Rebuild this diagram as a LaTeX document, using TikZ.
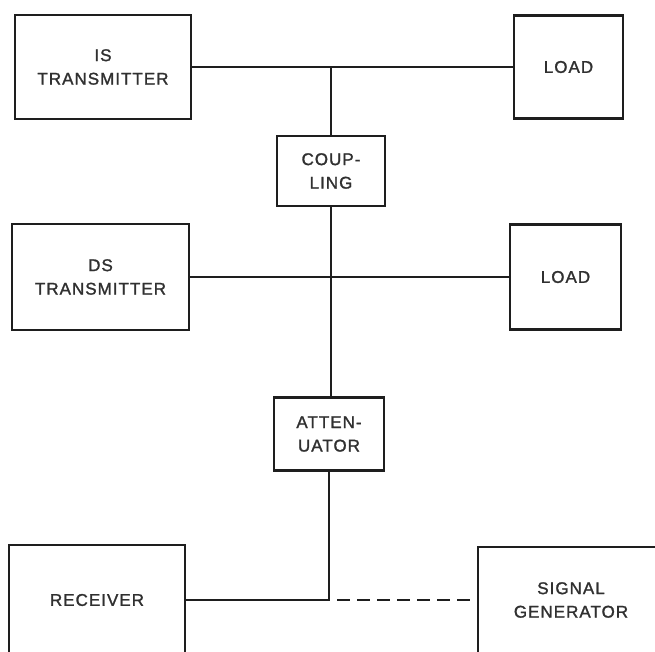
\documentclass[tikz,border=0pt]{standalone}
\usepackage{fontspec}
\setmainfont{Liberation Sans}[LetterSpace=6,FakeBold=1.4]
\usetikzlibrary{positioning}
\definecolor{inkline}{HTML}{1E1E1E}
\definecolor{inktext}{HTML}{303030}

\begin{document}
\begin{tikzpicture}[
        x=1pt,y=-1pt,
        blk/.style={draw=inkline,line width=2.3pt,align=center,inner sep=0pt,
                    text=inktext,font=\fontsize{17}{23.5}\selectfont},
        wire/.style={draw=inkline,line width=2.3pt}
      ]
        \useasboundingbox[fill=white] (0,0) rectangle (655,651);
        \clip (0,0) rectangle (655,651);
        \node[blk,minimum width=176pt,minimum height=104pt] (ist) at (103,67) {IS\\TRANSMITTER};
        \node[blk,minimum width=109pt,minimum height=103pt] (ld1) at (568.5,67) {LOAD};
        \node[blk,minimum width=108pt,minimum height=70pt] (cpl) at (331,171) {COUP-\\LING};
        \node[blk,minimum width=177pt,minimum height=106pt] (dst) at (100.5,277) {DS\\TRANSMITTER};
        \node[blk,minimum width=111pt,minimum height=105pt] (ld2) at (565.5,277) {LOAD};
        \node[blk,minimum width=110pt,minimum height=73pt] (att) at (329,434) {ATTEN-\\UATOR};
        \node[blk,minimum width=176pt,minimum height=110pt] (rcv) at (97,600) {RECEIVER};
        \node[blk,minimum width=186pt,minimum height=106pt] (sg) at (571,600) {SIGNAL\\GENERATOR};
        \draw[wire] (ist.east) -- (ld1.west);
        \draw[wire] (cpl.north |- ist.east) -- (cpl.north);
        \draw[wire] (dst.east) -- (ld2.west);
        \draw[wire] (cpl.south) -- (cpl.south |- att.north);
        \draw[wire] (att.south) |- (rcv.east);
        \draw[wire,dash pattern=on 13pt off 7pt] ([xshift=8pt]att.south |- rcv.east) -- (sg.west);
      \end{tikzpicture}
\end{document}
